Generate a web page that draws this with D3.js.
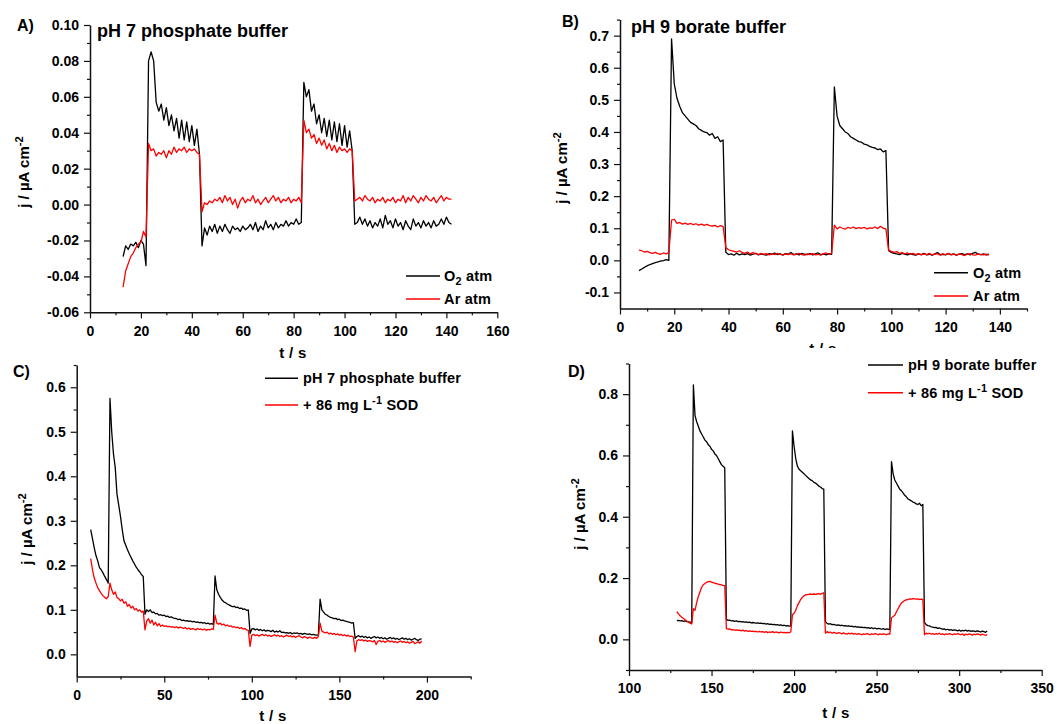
<!DOCTYPE html>
<html>
<head>
<meta charset="utf-8">
<script src="https://cdn.jsdelivr.net/npm/d3@7"></script>
<style>
  body { margin: 0; background: #fff; }
  svg text { font-family: "Liberation Sans", Arial, sans-serif; font-weight: bold; fill: #000; }
</style>
</head>
<body>
<svg id="fig" width="1057" height="724"></svg>
<script>
// ---------------------------------------------------------------
// Chronoamperometry under chopped illumination, 1 s sampling.
// Each series starts at its panel's t0 (s); values in µA cm^-2.
// ---------------------------------------------------------------

// Panel A: pH 7 phosphate buffer, O2 vs Ar atmosphere (t = 13 ... 142 s)
const tA0 = 13;
const o2A = [
  -0.029,-0.023,-0.025,-0.022,-0.023,-0.021,-0.024,-0.020,-0.022,-0.034,
  0.080,0.085,0.080,0.057,0.052,0.056,0.047,0.054,0.044,0.050,0.041,0.048,0.037,0.047,0.036,0.046,0.035,0.044,0.033,0.042,0.028,
  -0.023,-0.013,-0.017,-0.012,-0.015,-0.011,-0.016,-0.012,-0.015,-0.011,
  -0.014,-0.016,-0.012,-0.014,-0.013,-0.015,-0.012,-0.014,-0.013,-0.011,
  -0.014,-0.010,-0.015,-0.012,-0.014,-0.009,-0.013,-0.011,-0.014,-0.010,
  -0.013,-0.011,-0.012,-0.009,-0.012,-0.010,-0.011,-0.008,-0.011,-0.010,
  0.068,0.060,0.064,0.052,0.056,0.045,0.050,0.040,0.048,0.038,0.047,0.036,0.046,0.035,0.045,0.033,0.044,0.032,0.041,0.030,
  -0.011,-0.010,-0.007,-0.011,-0.008,-0.012,-0.009,-0.013,-0.010,-0.012,
  -0.008,-0.013,-0.006,-0.011,-0.009,-0.013,-0.008,-0.012,-0.010,-0.014,
  -0.009,-0.012,-0.014,-0.008,-0.012,-0.010,-0.013,-0.009,-0.012,-0.010,
  -0.013,-0.009,-0.012,-0.011,-0.008,-0.011,-0.007,-0.010,-0.011
];
const arA = [
  -0.046,-0.037,-0.033,-0.029,-0.027,-0.024,-0.022,-0.021,-0.015,-0.018,
  0.034,0.030,0.031,0.027,0.029,0.028,0.030,0.026,0.030,0.028,0.032,0.029,0.031,0.030,0.032,0.029,0.031,0.030,0.031,0.029,0.028,
  -0.004,0.001,0.000,0.002,0.001,0.003,0.002,0.004,0.001,0.005,
  0.002,0.004,0.000,0.003,-0.002,0.002,0.004,0.001,0.003,0.002,
  0.005,0.001,0.003,0.000,0.002,0.004,0.001,0.003,0.005,0.002,
  0.004,0.001,0.003,0.002,0.004,0.001,0.003,0.002,0.004,0.001,
  0.047,0.040,0.042,0.037,0.039,0.034,0.037,0.033,0.036,0.031,0.034,0.030,0.033,0.029,0.032,0.030,0.031,0.029,0.031,0.030,
  0.002,0.003,0.004,0.002,0.005,0.003,0.002,0.004,0.001,0.003,
  0.002,0.004,0.001,0.003,0.002,0.004,0.001,0.003,0.002,0.005,
  0.001,0.004,0.002,0.005,0.003,0.001,0.004,0.002,0.005,0.003,
  0.002,0.004,0.001,0.003,0.005,0.002,0.004,0.003,0.003
];

// Panel B: pH 9 borate buffer, O2 vs Ar atmosphere (t = 7 ... 136 s)
const tB0 = 7;
const o2B = [
  -0.032,-0.027,-0.022,-0.017,-0.013,-0.010,-0.007,-0.005,-0.002,-0.001,0.002,0.000,
  0.69,0.55,0.505,0.48,0.46,0.45,0.44,0.43,0.425,0.42,0.41,0.405,0.40,0.398,0.39,0.395,0.38,0.385,0.37,0.375,
  0.025,0.018,0.020,0.016,0.022,0.017,0.020,0.018,0.021,0.016,
  0.019,0.022,0.017,0.020,0.018,0.016,0.021,0.019,0.023,0.018,
  0.020,0.017,0.021,0.019,0.024,0.018,0.020,0.017,0.022,0.019,
  0.018,0.021,0.017,0.020,0.023,0.018,0.020,0.017,0.021,0.019,
  0.54,0.45,0.42,0.41,0.40,0.395,0.385,0.38,0.375,0.37,0.368,0.362,0.36,0.355,0.352,0.35,0.345,0.347,0.338,0.342,
  0.030,0.025,0.022,0.020,0.018,0.022,0.019,0.017,0.021,0.018,
  0.016,0.020,0.018,0.022,0.017,0.019,0.016,0.020,0.024,0.018,
  0.019,0.017,0.021,0.018,0.020,0.016,0.019,0.021,0.018,0.020,
  0.017,0.022,0.025,0.019,0.018,0.020,0.017,0.019
];
const arB = [
  0.032,0.030,0.026,0.028,0.024,0.022,0.025,0.021,0.019,0.023,0.020,0.024,
  0.125,0.128,0.115,0.118,0.113,0.116,0.112,0.115,0.111,0.114,0.110,0.113,0.109,0.112,0.108,0.107,0.109,0.104,0.108,0.105,
  0.040,0.033,0.030,0.028,0.026,0.030,0.025,0.022,0.026,0.020,
  0.024,0.021,0.018,0.022,0.019,0.021,0.017,0.020,0.018,0.022,
  0.019,0.016,0.020,0.018,0.021,0.017,0.019,0.022,0.018,0.016,
  0.020,0.018,0.021,0.017,0.019,0.016,0.021,0.023,0.019,0.022,
  0.110,0.098,0.104,0.100,0.097,0.103,0.100,0.104,0.099,0.102,0.100,0.103,0.098,0.101,0.100,0.104,0.099,0.106,0.100,0.098,
  0.032,0.028,0.025,0.027,0.022,0.024,0.020,0.023,0.019,0.022,
  0.018,0.021,0.017,0.020,0.018,0.022,0.017,0.019,0.021,0.016,
  0.020,0.018,0.022,0.017,0.019,0.016,0.020,0.018,0.015,0.019,
  0.021,0.017,0.016,0.020,0.018,0.017,0.019,0.017
];

// Panel C: pH 7 phosphate buffer with / without SOD (t = 8 ... 197 s)
const tC0 = 8;
const phosC = [
  0.280,0.260,0.240,0.222,0.210,0.195,0.190,0.183,0.175,0.168,0.160,
  0.575,0.500,0.450,0.420,0.360,0.335,0.310,0.280,0.255,0.245,0.235,0.226,0.218,0.210,0.203,0.196,0.190,0.185,0.179,0.175,
  0.090,0.100,0.096,0.100,0.094,0.095,0.091,0.092,0.088,0.089,
  0.087,0.088,0.085,0.086,0.083,0.084,0.082,0.081,0.080,0.078,
  0.079,0.076,0.077,0.075,0.076,0.074,0.075,0.073,0.074,0.072,
  0.073,0.071,0.072,0.070,0.071,0.069,0.070,0.068,0.069,0.067,
  0.176,0.145,0.135,0.128,0.122,0.118,0.116,0.113,0.111,0.109,0.107,0.108,0.105,0.106,0.103,0.104,0.101,0.102,0.099,0.100,
  0.047,0.057,0.058,0.055,0.057,0.054,0.056,0.053,0.055,0.052,
  0.054,0.053,0.051,0.054,0.050,0.052,0.050,0.053,0.049,0.050,
  0.048,0.049,0.047,0.049,0.046,0.048,0.047,0.048,0.046,0.047,
  0.045,0.047,0.046,0.045,0.046,0.044,0.045,0.044,0.043,0.044,
  0.124,0.100,0.095,0.090,0.088,0.085,0.083,0.082,0.080,0.081,0.078,0.079,0.076,0.077,0.075,0.074,0.073,0.072,0.070,0.071,
  0.036,0.040,0.042,0.039,0.041,0.038,0.040,0.037,0.039,0.036,
  0.038,0.040,0.037,0.039,0.036,0.038,0.035,0.037,0.034,0.036,
  0.038,0.035,0.037,0.034,0.036,0.033,0.035,0.037,0.034,0.036,
  0.033,0.035,0.032,0.034,0.036,0.033,0.031,0.034,0.035
];
const sodC = [
  0.215,0.190,0.172,0.160,0.150,0.143,0.137,0.132,0.128,0.125,0.130,
  0.160,0.145,0.135,0.140,0.128,0.125,0.120,0.124,0.115,0.118,0.108,0.112,0.104,0.108,0.100,0.103,0.097,0.100,0.095,0.097,
  0.055,0.075,0.080,0.070,0.077,0.066,0.072,0.064,0.069,0.063,
  0.066,0.063,0.064,0.062,0.063,0.061,0.062,0.060,0.062,0.059,
  0.061,0.060,0.058,0.060,0.057,0.059,0.056,0.058,0.057,0.055,
  0.058,0.056,0.057,0.055,0.057,0.054,0.056,0.055,0.057,0.056,
  0.088,0.070,0.068,0.070,0.066,0.068,0.064,0.066,0.063,0.064,0.061,0.062,0.060,0.061,0.058,0.060,0.057,0.058,0.055,0.054,
  0.018,0.043,0.045,0.042,0.044,0.041,0.043,0.045,0.042,0.044,
  0.041,0.043,0.040,0.042,0.044,0.041,0.043,0.040,0.042,0.039,
  0.041,0.043,0.040,0.042,0.039,0.041,0.038,0.040,0.042,0.039,
  0.037,0.040,0.038,0.036,0.039,0.037,0.036,0.038,0.036,0.040,
  0.070,0.052,0.050,0.048,0.050,0.046,0.048,0.045,0.047,0.044,0.046,0.043,0.045,0.042,0.044,0.041,0.043,0.040,0.041,0.039,
  0.006,0.030,0.033,0.031,0.033,0.030,0.032,0.029,0.031,0.030,
  0.028,0.031,0.022,0.029,0.031,0.028,0.030,0.027,0.029,0.031,
  0.028,0.030,0.027,0.029,0.026,0.028,0.030,0.027,0.029,0.026,
  0.028,0.025,0.027,0.029,0.024,0.026,0.028,0.025,0.030
];

// Panel D: pH 9 borate buffer with / without SOD (t = 129 ... 317 s)
const tD0 = 129;
const borD = [
  0.061,0.062,0.060,0.061,0.059,0.060,0.058,0.057,0.056,0.054,
  0.830,0.730,0.710,0.695,0.680,0.670,0.660,0.650,0.645,0.635,0.630,0.620,0.615,0.605,0.600,0.590,0.580,0.570,0.565,0.560,
  0.065,0.062,0.063,0.060,0.061,0.059,0.060,0.058,0.059,0.057,
  0.058,0.056,0.057,0.055,0.056,0.054,0.055,0.054,0.053,0.054,
  0.052,0.053,0.051,0.052,0.050,0.051,0.049,0.050,0.048,0.049,
  0.047,0.048,0.046,0.047,0.045,0.046,0.044,0.045,0.043,0.044,
  0.680,0.630,0.590,0.565,0.555,0.550,0.545,0.540,0.535,0.530,0.525,0.520,0.518,0.512,0.510,0.505,0.500,0.497,0.492,0.490,
  0.058,0.052,0.050,0.051,0.048,0.049,0.047,0.046,0.047,0.045,
  0.046,0.044,0.045,0.043,0.044,0.042,0.043,0.041,0.042,0.040,
  0.041,0.039,0.040,0.038,0.039,0.037,0.038,0.036,0.038,0.035,
  0.037,0.034,0.036,0.035,0.033,0.035,0.032,0.034,0.033,0.032,
  0.580,0.540,0.520,0.510,0.500,0.490,0.485,0.478,0.470,0.465,0.458,0.455,0.452,0.448,0.446,0.442,0.440,0.444,0.436,0.440,
  0.055,0.048,0.045,0.044,0.041,0.040,0.038,0.039,0.036,0.037,
  0.035,0.033,0.034,0.031,0.033,0.030,0.032,0.029,0.031,0.030,
  0.028,0.030,0.027,0.029,0.028,0.030,0.027,0.029,0.026,0.028,
  0.027,0.025,0.028,0.026,0.024,0.027,0.025,0.023,0.027
];
const sodD = [
  0.090,0.083,0.077,0.072,0.068,0.064,0.060,0.057,0.053,0.050,
  0.100,0.095,0.120,0.140,0.155,0.170,0.178,0.182,0.186,0.188,0.189,0.187,0.185,0.183,0.182,0.180,0.179,0.178,0.176,0.175,
  0.035,0.033,0.034,0.031,0.032,0.030,0.031,0.029,0.030,0.028,
  0.030,0.027,0.029,0.026,0.028,0.026,0.027,0.025,0.026,0.024,
  0.026,0.024,0.025,0.023,0.025,0.022,0.024,0.023,0.025,0.022,
  0.024,0.023,0.021,0.024,0.022,0.023,0.021,0.023,0.022,0.024,
  0.080,0.085,0.095,0.110,0.120,0.130,0.137,0.142,0.145,0.146,0.147,0.148,0.147,0.148,0.147,0.148,0.149,0.147,0.150,0.152,
  0.020,0.025,0.022,0.024,0.020,0.023,0.021,0.019,0.022,0.020,
  0.018,0.021,0.019,0.017,0.020,0.018,0.020,0.017,0.019,0.016,
  0.019,0.017,0.015,0.018,0.016,0.019,0.017,0.015,0.018,0.016,
  0.019,0.017,0.015,0.018,0.016,0.018,0.017,0.015,0.018,0.017,
  0.070,0.075,0.078,0.090,0.100,0.110,0.118,0.123,0.127,0.129,0.130,0.132,0.131,0.133,0.132,0.131,0.132,0.130,0.131,0.130,
  0.015,0.020,0.018,0.020,0.017,0.019,0.016,0.019,0.017,0.020,
  0.016,0.018,0.015,0.018,0.016,0.019,0.017,0.015,0.018,0.016,
  0.019,0.017,0.015,0.018,0.013,0.017,0.015,0.018,0.016,0.014,
  0.017,0.015,0.018,0.016,0.014,0.017,0.015,0.013,0.016
];

const sampleStep = 1; // s

// Tick values (major are labelled, minor are not)
const xMajorA = [0, 20, 40, 60, 80, 100, 120, 140, 160];
const xMinorA = [10, 30, 50, 70, 90, 110, 130, 150];
const yMajorA = [-0.06, -0.04, -0.02, 0.00, 0.02, 0.04, 0.06, 0.08, 0.10];
const yMinorA = [-0.05, -0.03, -0.01, 0.01, 0.03, 0.05, 0.07, 0.09];

const xMajorB = [0, 20, 40, 60, 80, 100, 120, 140];
const xMinorB = [10, 30, 50, 70, 90, 110, 130, 150];
const yMajorB = [-0.1, 0.0, 0.1, 0.2, 0.3, 0.4, 0.5, 0.6, 0.7];
const yMinorB = [-0.05, 0.05, 0.15, 0.25, 0.35, 0.45, 0.55, 0.65, 0.75];

const xMajorC = [0, 50, 100, 150, 200];
const xMinorC = [25, 75, 125, 175, 225];
const yMajorC = [0.0, 0.1, 0.2, 0.3, 0.4, 0.5, 0.6];
const yMinorC = [0.05, 0.15, 0.25, 0.35, 0.45, 0.55, 0.65];

const xMajorD = [100, 150, 200, 250, 300, 350];
const xMinorD = [125, 175, 225, 275, 325];
const yMajorD = [0.0, 0.2, 0.4, 0.6, 0.8];
const yMinorD = [-0.1, 0.1, 0.3, 0.5, 0.7, 0.9];

const BLACK = "#000000", RED = "#ff0000";

// Legend entries: arrays of text runs; "sub"/"sup" mark lowered/raised runs
const legO2 = [{t: "O"}, {t: "2", sub: true}, {t: " atm"}];
const legAr = [{t: "Ar atm"}];
const legPh7 = [{t: "pH 7 phosphate buffer"}];
const legPh9 = [{t: "pH 9 borate buffer"}];
const legSod = [{t: "+ 86 mg L"}, {t: "-1", sup: true}, {t: " SOD"}];
const yTitle = [{t: "j / \u00b5A cm"}, {t: "-2", sup: true}];

const panels = [
  {
    tag: "A)", tagPos: [17, 31], title: "pH 7 phosphate buffer", titlePos: [97, 37],
    t0: tA0, series: [{v: o2A, c: BLACK, leg: legO2}, {v: arA, c: RED, leg: legAr}],
    xDom: [0, 160], xPx: [90, 497.3], yDom: [-0.06, 0.10], yPx: [312.3, 25],
    xMajor: xMajorA, xMinor: xMinorA, yMajor: yMajorA, yMinor: yMinorA, yDec: 2,
    xLab: [293, 358], yLab: [29, 172],
    leg: {x0: 406, x1: 440, tx: 444, ys: [276, 299], dy: 5}
  },
  {
    tag: "B)", tagPos: [562, 27], title: "pH 9 borate buffer", titlePos: [631, 33],
    t0: tB0, series: [{v: o2B, c: BLACK, leg: legO2}, {v: arB, c: RED, leg: legAr}],
    xDom: [0, 150], xPx: [620, 1027], yDom: [-0.15, 0.75], yPx: [308.5, 19.6],
    xMajor: xMajorB, xMinor: xMinorB, yMajor: yMajorB, yMinor: yMinorB, yDec: 1,
    xLab: [823, 354], xLabClip: 348, yLab: [567, 168],
    leg: {x0: 934, x1: 968, tx: 973, ys: [272.7, 296], dy: 5}
  },
  {
    tag: "C)", tagPos: [13, 377], title: null,
    t0: tC0, series: [{v: phosC, c: BLACK, leg: legPh7}, {v: sodC, c: RED, leg: legSod}],
    xDom: [0, 225], xPx: [76.7, 470.7], yDom: [-0.05, 0.65], yPx: [676.6, 365],
    xMajor: xMajorC, xMinor: xMinorC, yMajor: yMajorC, yMinor: yMinorC, yDec: 1,
    xLab: [273, 721], yLab: [32, 529],
    leg: {x0: 265, x1: 298, tx: 303, ys: [378.3, 405], dy: 5}
  },
  {
    tag: "D)", tagPos: [568, 377], title: null,
    t0: tD0, series: [{v: borD, c: BLACK, leg: legPh9}, {v: sodD, c: RED, leg: legSod}],
    xDom: [100, 350], xPx: [629, 1041.7], yDom: [-0.1, 0.9], yPx: [670, 363.5],
    xMajor: xMajorD, xMinor: xMinorD, yMajor: yMajorD, yMinor: yMinorD, yDec: 1,
    xLab: [836, 718], yLab: [585, 514],
    leg: {x0: 868, x1: 903, tx: 908, ys: [365, 392.7], dy: 5}
  }
];

const svg = d3.select("#fig");
svg.append("rect").attr("width", 1057).attr("height", 724).attr("fill", "#fff");

svg.append("clipPath").attr("id", "clipB")
  .append("rect").attr("x", 0).attr("y", 0).attr("width", 1057).attr("height", 348);

// Writes a run list (plain, subscript, superscript) into a text element
function runs(textSel, parts, size) {
  let shift = 0;
  parts.forEach(p => {
    const target = p.sub ? 4 : p.sup ? -6 : 0;
    textSel.append("tspan")
      .attr("dy", target - shift)
      .attr("font-size", (p.sub || p.sup) ? size * 0.75 : size)
      .text(p.t);
    shift = target;
  });
}

function drawPanel(p) {
  const g = svg.append("g");
  const x = d3.scaleLinear().domain(p.xDom).range(p.xPx);
  const y = d3.scaleLinear().domain(p.yDom).range(p.yPx);
  const fmt = v => (Math.abs(v) < 1e-9 ? 0 : v).toFixed(p.yDec);
  const y0 = p.yPx[0], x0 = p.xPx[0];

  // minor ticks
  g.append("g").attr("transform", `translate(0,${y0})`)
    .call(d3.axisBottom(x).tickValues(p.xMinor).tickSize(3).tickSizeOuter(0).tickFormat(""))
    .call(s => s.select(".domain").remove());
  g.append("g").attr("transform", `translate(${x0},0)`)
    .call(d3.axisLeft(y).tickValues(p.yMinor).tickSize(3).tickSizeOuter(0).tickFormat(""))
    .call(s => s.select(".domain").remove());

  // major ticks with labels
  const xa = g.append("g").attr("transform", `translate(0,${y0})`)
    .call(d3.axisBottom(x).tickValues(p.xMajor).tickSize(6).tickSizeOuter(0).tickPadding(4)
      .tickFormat(d3.format("d")));
  g.append("g").attr("transform", `translate(${x0},0)`)
    .call(d3.axisLeft(y).tickValues(p.yMajor).tickSize(6).tickSizeOuter(0).tickPadding(5)
      .tickFormat(fmt));

  g.selectAll(".tick line").attr("stroke", "#111").attr("stroke-width", 1.2);
  g.selectAll(".domain").attr("stroke", "#111").attr("stroke-width", 1.5);
  g.selectAll(".tick text")
    .attr("font-size", 14)
    .attr("font-family", '"Liberation Sans", Arial, sans-serif')
    .attr("font-weight", "bold")
    .attr("fill", "#000");
  xa.selectAll(".tick text").attr("dy", "0.95em");

  // traces
  p.series.forEach(s => {
    const line = d3.line()
      .x((v, i) => x(p.t0 + i * sampleStep))
      .y(v => y(v));
    g.append("path").datum(s.v)
      .attr("d", line)
      .attr("fill", "none")
      .attr("stroke", s.c)
      .attr("stroke-width", 1.3)
      .attr("stroke-linejoin", "round");
  });

  // legend
  p.series.forEach((s, i) => {
    const ly = p.leg.ys[i];
    g.append("line").attr("x1", p.leg.x0).attr("x2", p.leg.x1)
      .attr("y1", ly).attr("y2", ly)
      .attr("stroke", s.c).attr("stroke-width", 1.5);
    const t = g.append("text").attr("x", p.leg.tx).attr("y", ly + p.leg.dy)
      .attr("font-size", 14.5).attr("letter-spacing", 0.2);
    runs(t, s.leg, 14.5);
  });

  // axis titles
  const xt = g.append("text").attr("x", p.xLab[0]).attr("y", p.xLab[1])
    .attr("text-anchor", "middle").attr("font-size", 15).attr("letter-spacing", 0.3)
    .text("t / s");
  if (p.xLabClip) xt.attr("clip-path", "url(#clipB)");

  const yt = g.append("text")
    .attr("transform", `translate(${p.yLab[0]},${p.yLab[1]}) rotate(-90)`)
    .attr("text-anchor", "middle").attr("font-size", 15);
  runs(yt, yTitle, 15);

  // panel letter and title
  g.append("text").attr("x", p.tagPos[0]).attr("y", p.tagPos[1])
    .attr("font-size", 16).text(p.tag);
  if (p.title) {
    g.append("text").attr("x", p.titlePos[0]).attr("y", p.titlePos[1])
      .attr("font-size", 18).text(p.title);
  }
}

panels.forEach(drawPanel);
</script>
</body>
</html>
